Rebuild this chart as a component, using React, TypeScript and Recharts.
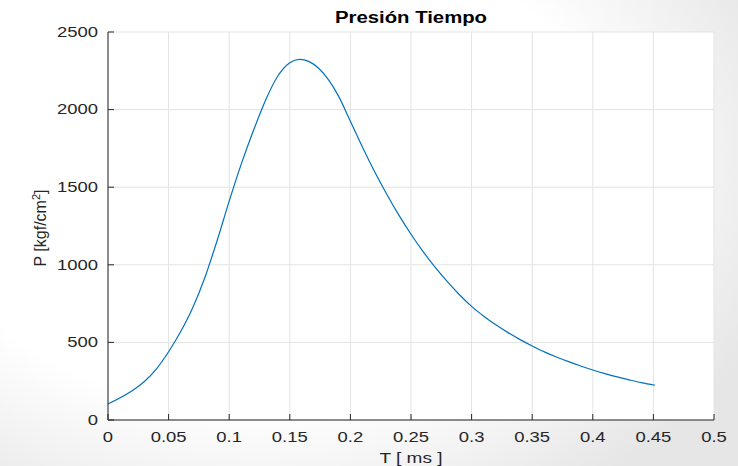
import { LineChart, Line, XAxis, YAxis, CartesianGrid } from 'recharts'

// tiempo [ms] y presión [kgf/cm2]
const tiempo = [
  0, 0.0229, 0.03, 0.04, 0.05, 0.06, 0.07, 0.08, 0.09, 0.1, 0.11, 0.12, 0.13, 0.14, 0.15,
  0.158, 0.166, 0.174, 0.182, 0.19, 0.2, 0.21, 0.22, 0.23, 0.24, 0.25, 0.26, 0.27, 0.28,
  0.29, 0.3, 0.31, 0.32, 0.33, 0.34, 0.35, 0.36, 0.37, 0.38, 0.39, 0.4, 0.41, 0.42, 0.43,
  0.44, 0.4513,
]
const presion = [
  103, 204, 248, 330, 440, 570, 725, 920, 1155, 1410, 1650, 1865, 2061, 2215, 2302,
  2324, 2309, 2265, 2192, 2090, 1925, 1758, 1600, 1455, 1320, 1197, 1085, 983, 891,
  807, 732, 669, 613, 563, 518, 477, 439, 406, 376, 348, 322, 299, 278, 259,
  241, 224,
]
const xTicks = [0, 0.05, 0.1, 0.15, 0.2, 0.25, 0.3, 0.35, 0.4, 0.45, 0.5]
const yTicks = [0, 500, 1000, 1500, 2000, 2500]

const data = tiempo.map((t, i) => ({ t, p: presion[i] }))

const FONT = '"Liberation Sans", Arial, Helvetica, sans-serif'
const INK = '#262626'
const SX = 1.23

function stretch(x: number, y: number) {
  return `translate(${x} ${y}) scale(${SX} 1) translate(${-x} ${-y})`
}

function XTick(props: any) {
  const { x, y, payload } = props
  return (
    <text
      x={x}
      y={y}
      textAnchor="middle"
      dominantBaseline="hanging"
      fontSize={15}
      fontFamily={FONT}
      fill={INK}
      transform={stretch(x, y)}
    >
      {String(payload.value)}
    </text>
  )
}

function YTick(props: any) {
  const { x, y, payload } = props
  return (
    <text
      x={x}
      y={y}
      textAnchor="end"
      dominantBaseline="central"
      fontSize={15}
      fontFamily={FONT}
      fill={INK}
      transform={stretch(x, y)}
    >
      {String(payload.value)}
    </text>
  )
}

export default function App() {
  return (
    <div
      style={{
        position: 'absolute',
        left: 0,
        top: 0,
        width: 738,
        height: 466,
        background:
          'radial-gradient(ellipse 75% 85% at 35% 35%, #ffffff 62%, #e6e6e6 100%)',
        fontFamily: FONT,
        color: INK,
        overflow: 'hidden',
      }}
    >
      <LineChart
        width={738}
        height={466}
        data={data}
        margin={{ top: 32, right: 24, bottom: 0, left: 0 }}
      >
        <CartesianGrid stroke="#e3e3e3" fill="#ffffff" />
        <XAxis
          dataKey="t"
          type="number"
          domain={[0, 0.5]}
          ticks={xTicks}
          height={46}
          tickSize={-6}
          tickMargin={17}
          tick={<XTick />}
          stroke={INK}
          interval={0}
        />
        <XAxis
          xAxisId="top"
          orientation="top"
          type="number"
          domain={[0, 0.5]}
          ticks={xTicks}
          height={0}
          tickSize={-6}
          tick={false}
          stroke={INK}
        />
        <YAxis
          type="number"
          domain={[0, 2500]}
          ticks={yTicks}
          width={108}
          tickSize={-6}
          tickMargin={16}
          tick={<YTick />}
          stroke={INK}
          interval={0}
        />
        <YAxis
          yAxisId="right"
          orientation="right"
          type="number"
          domain={[0, 2500]}
          ticks={yTicks}
          width={0}
          tickSize={-6}
          tick={false}
          stroke={INK}
        />
        <Line
          dataKey="p"
          type="monotone"
          stroke="#0072BD"
          strokeWidth={1.2}
          dot={false}
          isAnimationActive={false}
        />
      </LineChart>

      <div
        style={{
          position: 'absolute',
          left: 411,
          top: 18,
          transform: `translate(-50%, -50%) scaleX(1.27)`,
          fontSize: 16,
          fontWeight: 'bold',
          color: '#000',
          whiteSpace: 'nowrap',
        }}
      >
        Presión Tiempo
      </div>
      <div
        style={{
          position: 'absolute',
          left: 411,
          top: 457,
          transform: `translate(-50%, -50%) scaleX(1.27)`,
          fontSize: 15,
          whiteSpace: 'nowrap',
        }}
      >
        T [ ms ]
      </div>
      <div
        style={{
          position: 'absolute',
          left: 40,
          top: 228,
          transform: 'translate(-50%, -50%) rotate(-90deg)',
          fontSize: 16,
          whiteSpace: 'nowrap',
        }}
      >
        P [kgf/cm<sup style={{ fontSize: 11 }}>2</sup>]
      </div>
    </div>
  )
}
